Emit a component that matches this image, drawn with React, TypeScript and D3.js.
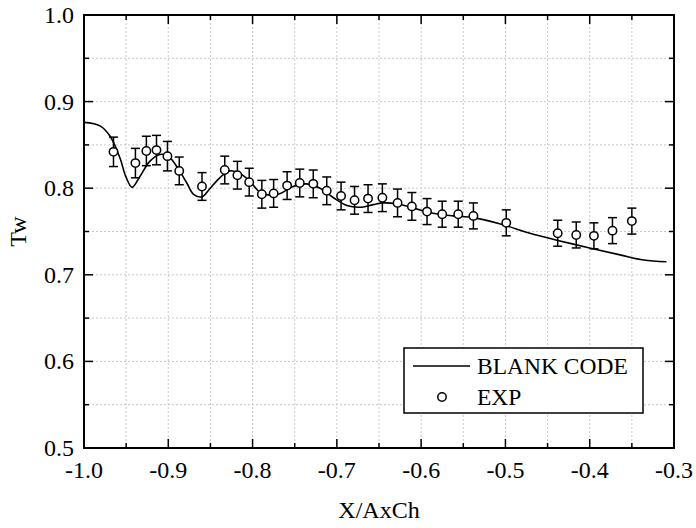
import React from "react";
import * as d3 from "d3";

const expX = [-0.965, -0.939, -0.926, -0.914, -0.901, -0.887, -0.860, -0.833, -0.818, -0.804, -0.789, -0.775, -0.759, -0.744, -0.728, -0.712, -0.695, -0.679, -0.663, -0.646, -0.628, -0.611, -0.593, -0.575, -0.556, -0.538, -0.499, -0.438, -0.416, -0.395, -0.373, -0.350];
const expY = [0.842, 0.829, 0.843, 0.844, 0.837, 0.820, 0.802, 0.821, 0.815, 0.807, 0.793, 0.794, 0.803, 0.806, 0.805, 0.797, 0.791, 0.786, 0.788, 0.789, 0.783, 0.779, 0.773, 0.770, 0.770, 0.768, 0.760, 0.748, 0.746, 0.745, 0.751, 0.762];
const expErr = [0.017, 0.017, 0.017, 0.017, 0.017, 0.016, 0.016, 0.016, 0.016, 0.016, 0.016, 0.016, 0.016, 0.016, 0.016, 0.016, 0.016, 0.016, 0.016, 0.016, 0.016, 0.016, 0.015, 0.015, 0.015, 0.015, 0.015, 0.015, 0.015, 0.015, 0.015, 0.015];

const lineX = [-1.0, -0.981, -0.969, -0.957, -0.951, -0.943, -0.934, -0.922, -0.910, -0.900, -0.888, -0.878, -0.870, -0.860, -0.851, -0.839, -0.827, -0.815, -0.803, -0.791, -0.778, -0.767, -0.752, -0.736, -0.720, -0.704, -0.688, -0.673, -0.657, -0.645, -0.629, -0.609, -0.586, -0.562, -0.538, -0.507, -0.471, -0.439, -0.400, -0.364, -0.336, -0.309];
const lineY = [0.876, 0.872, 0.860, 0.834, 0.815, 0.801, 0.813, 0.831, 0.839, 0.837, 0.822, 0.806, 0.793, 0.790, 0.799, 0.812, 0.820, 0.817, 0.808, 0.795, 0.792, 0.794, 0.802, 0.805, 0.800, 0.789, 0.780, 0.778, 0.781, 0.783, 0.782, 0.777, 0.771, 0.768, 0.766, 0.759, 0.748, 0.740, 0.731, 0.723, 0.717, 0.715];

const xTicks = [-1.0, -0.9, -0.8, -0.7, -0.6, -0.5, -0.4, -0.3];
const yTicks = [0.5, 0.6, 0.7, 0.8, 0.9, 1.0];
const xMinor = [-0.95, -0.85, -0.75, -0.65, -0.55, -0.45, -0.35];
const yMinor = [0.55, 0.65, 0.75, 0.85, 0.95];

const FONT = "Liberation Serif, Times New Roman, serif";

export default function App() {
  const W = 696, H = 528;
  const L = 84, R = 674, T = 15, B = 448;
  const x = d3.scaleLinear().domain([-1.0, -0.3]).range([L, R]);
  const y = d3.scaleLinear().domain([0.5, 1.0]).range([B, T]);
  const linePts = lineX.map((v, i) => [v, lineY[i]] as [number, number]);
  const path = d3.line<[number, number]>().x(d => x(d[0])).y(d => y(d[1])).curve(d3.curveCatmullRom.alpha(0.5))(linePts) || "";
  const gridAllX = [...xTicks, ...xMinor].filter(v => v > -1.0 && v < -0.3);
  const gridAllY = [...yTicks, ...yMinor].filter(v => v > 0.5 && v < 1.0);
  const major = 9, minor = 5;
  const fmt = (v: number) => d3.format(".1f")(v).replace("\u2212", "-");
  return (
    <svg width={W} height={H} style={{ position: "absolute", left: 0, top: 0, background: "#fff", fontFamily: FONT }}>
      <rect x={0} y={0} width={W} height={H} fill="#fff" />
      <g stroke="#c8c8c8" strokeWidth={1} strokeDasharray="2,2">
        {gridAllX.map((v, i) => <line key={"gx" + i} x1={x(v)} x2={x(v)} y1={T} y2={B} />)}
        {gridAllY.map((v, i) => <line key={"gy" + i} x1={L} x2={R} y1={y(v)} y2={y(v)} />)}
      </g>
      <path d={path} fill="none" stroke="#000" strokeWidth={1.6} />
      <g stroke="#000" strokeWidth={1.5} fill="#fff">
        {expX.map((v, i) => {
          const cx = x(v), cy = y(expY[i]);
          const y1 = y(expY[i] + expErr[i]), y2 = y(expY[i] - expErr[i]);
          return (
            <g key={"p" + i}>
              <line x1={cx} x2={cx} y1={y1} y2={y2} />
              <line x1={cx - 4.5} x2={cx + 4.5} y1={y1} y2={y1} />
              <line x1={cx - 4.5} x2={cx + 4.5} y1={y2} y2={y2} />
              <circle cx={cx} cy={cy} r={4.2} />
            </g>
          );
        })}
      </g>
      <g stroke="#000" strokeWidth={1.5}>
        {xTicks.map((v, i) => <line key={"bt" + i} x1={x(v)} x2={x(v)} y1={B} y2={B - major} />)}
        {xMinor.map((v, i) => <line key={"bm" + i} x1={x(v)} x2={x(v)} y1={B} y2={B - minor} />)}
        {xTicks.map((v, i) => <line key={"tt" + i} x1={x(v)} x2={x(v)} y1={T} y2={T + major} />)}
        {xMinor.map((v, i) => <line key={"tm" + i} x1={x(v)} x2={x(v)} y1={T} y2={T + minor} />)}
        {yTicks.map((v, i) => <line key={"lt" + i} x1={L} x2={L + major} y1={y(v)} y2={y(v)} />)}
        {yMinor.map((v, i) => <line key={"lm" + i} x1={L} x2={L + minor} y1={y(v)} y2={y(v)} />)}
        {yTicks.map((v, i) => <line key={"rt" + i} x1={R} x2={R - major} y1={y(v)} y2={y(v)} />)}
        {yMinor.map((v, i) => <line key={"rm" + i} x1={R} x2={R - minor} y1={y(v)} y2={y(v)} />)}
      </g>
      <rect x={L} y={T} width={R - L} height={B - T} fill="none" stroke="#000" strokeWidth={2} />
      <g fontSize={24} fill="#000">
        {xTicks.map((v, i) => (
          <text key={"xl" + i} x={x(v)} y={B + 30} textAnchor="middle">{fmt(v)}</text>
        ))}
        {yTicks.map((v, i) => (
          <text key={"yl" + i} x={L - 10} y={y(v) + 8} textAnchor="end">{fmt(v)}</text>
        ))}
        <text x={(L + R) / 2} y={B + 70} textAnchor="middle">X/AxCh</text>
        <text transform={`translate(${26},${(T + B) / 2}) rotate(-90)`} textAnchor="middle">Tw</text>
      </g>
      <g>
        <rect x={404} y={348} width={239} height={65} fill="#fff" stroke="#000" strokeWidth={1.5} />
        <line x1={413} x2={470} y1={366} y2={366} stroke="#000" strokeWidth={1.6} />
        <text x={477} y={374} fontSize={23.5}>BLANK CODE</text>
        <circle cx={442} cy={397} r={4.2} fill="#fff" stroke="#000" strokeWidth={1.5} />
        <text x={477} y={405} fontSize={23.5}>EXP</text>
      </g>
    </svg>
  );
}
